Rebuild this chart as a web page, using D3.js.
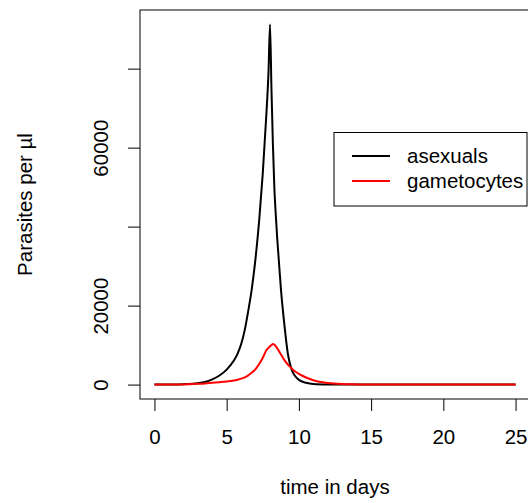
<!DOCTYPE html>
<html>
<head>
<meta charset="utf-8">
<script src="https://cdn.jsdelivr.net/npm/d3@7"></script>
<style>
  body { margin: 0; background: #fff; }
  svg text { font-family: "Liberation Sans", Arial, sans-serif; fill: #000; }
</style>
</head>
<body>
<div id="vis"></div>
<script>
// values
const days = [0, 1, 2, 3, 3.5, 4, 4.5, 5, 5.5, 5.75, 6, 6.25, 6.5, 6.75, 7, 7.25, 7.5, 7.75, 7.9, 8, 8.1, 8.2, 8.3, 8.4, 8.5, 8.6, 8.75,
              9, 9.25, 9.5, 9.75, 10, 10.5, 11, 12, 13, 14, 15, 20, 25];
const asexuals = [0, 20, 100, 350, 650, 1300, 2300, 3800, 6100, 7800, 10200, 13800, 18800, 24500, 32000, 41500, 53500, 68500, 79500, 91200,
                  75000, 61000, 50000, 43000, 37000, 32000, 24500, 15000, 7500, 3800, 2100, 1200, 450, 150, 30, 5, 0, 0, 0, 0];
const gametocytes = [0, 10, 50, 200, 300, 450, 600, 780, 1050, 1250, 1500, 1850, 2350, 3050, 3900, 5200, 6800, 8700, 9300, 9700,
                     10000, 10250, 10150, 9700, 9200, 8600, 7700, 6200, 5000, 4100, 3300, 2700, 1800, 1100, 400, 130, 50, 20, 0, 0];
const xTicks = [0, 5, 10, 15, 20, 25];
const yTicks = [0, 20000, 40000, 60000, 80000];
const yTickLabels = ["0", "20000", "", "60000", ""];
const seriesNames = ["asexuals", "gametocytes"];
const seriesColors = ["#000000", "#ff0000"];

const W = 528, H = 503;
const box = { left: 140, right: 530, top: 10, bottom: 399 };

const svg = d3.select("#vis").append("svg")
    .attr("width", W)
    .attr("height", H);

// R style 4% padding on each side
const xPad = (d3.max(days) - d3.min(days)) * 0.04;
const yMax = d3.max(asexuals);
const yPad = yMax * 0.04;

const x = d3.scaleLinear()
    .domain([d3.min(days) - xPad, d3.max(days) + xPad])
    .range([box.left, box.right]);

const y = d3.scaleLinear()
    .domain([0 - yPad, yMax + yPad])
    .range([box.bottom, box.top]);

const xAxis = svg.append("g")
    .attr("transform", `translate(0, ${box.bottom})`)
    .call(d3.axisBottom(x).tickValues(xTicks).tickSize(12).tickPadding(18).tickFormat(d3.format("d")));

const yAxis = svg.append("g")
    .attr("transform", `translate(${box.left}, 0)`)
    .call(d3.axisLeft(y).tickValues(yTicks).tickSize(12).tickFormat((d, i) => yTickLabels[i]));

[xAxis, yAxis].forEach(g => {
    g.select(".domain").remove();
    g.selectAll("line").attr("stroke", "#000");
    g.selectAll("text").style("font-size", "20.5px").attr("fill", "#000");
});

xAxis.selectAll("text").attr("dy", "0.71em");

// rotated y tick labels like R's las=0
yAxis.selectAll(".tick text")
    .attr("x", null)
    .attr("dy", null)
    .attr("text-anchor", "middle")
    .attr("transform", "translate(-32, 0) rotate(-90)");

svg.append("rect")
    .attr("x", box.left)
    .attr("y", box.top)
    .attr("width", box.right - box.left)
    .attr("height", box.bottom - box.top)
    .attr("fill", "none")
    .attr("stroke", "#000")
    .attr("stroke-width", 1);

const line = d3.line()
    .x(d => x(d[0]))
    .y(d => y(d[1]))
    .curve(d3.curveMonotoneX);

const series = [asexuals, gametocytes];
series.forEach((vals, i) => {
    svg.append("path")
        .datum(days.map((d, j) => [d, vals[j]]))
        .attr("fill", "none")
        .attr("stroke", seriesColors[i])
        .attr("stroke-width", 2)
        .attr("stroke-linejoin", "round")
        .attr("d", line);
});

// axis titles
svg.append("text")
    .attr("x", (box.left + box.right) / 2)
    .attr("y", 494)
    .attr("text-anchor", "middle")
    .style("font-size", "20.5px")
    .text("time in days");

svg.append("text")
    .attr("transform", `translate(32, ${(box.top + box.bottom) / 2}) rotate(-90)`)
    .attr("text-anchor", "middle")
    .style("font-size", "20.5px")
    .text("Parasites per µl");

// legend
const legend = svg.append("g");
legend.append("rect")
    .attr("x", 334)
    .attr("y", 132.5)
    .attr("width", 193)
    .attr("height", 73.5)
    .attr("fill", "#fff")
    .attr("stroke", "#000");

seriesNames.forEach((name, i) => {
    const ly = 156 + i * 25;
    legend.append("line")
        .attr("x1", 352).attr("x2", 390)
        .attr("y1", ly).attr("y2", ly)
        .attr("stroke", seriesColors[i])
        .attr("stroke-width", 2);
    legend.append("text")
        .attr("x", 407)
        .attr("y", ly)
        .attr("dy", "0.35em")
        .style("font-size", "20.5px")
        .text(name);
});
</script>
</body>
</html>
